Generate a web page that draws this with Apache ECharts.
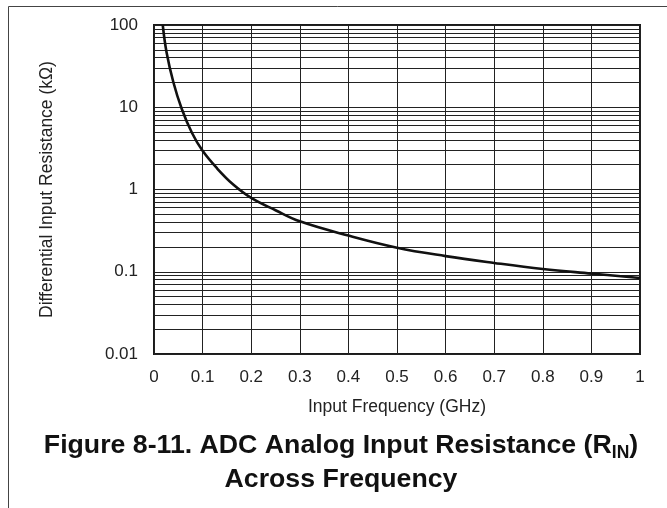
<!DOCTYPE html>
<html>
<head>
<meta charset="utf-8">
<script src="https://cdn.jsdelivr.net/npm/echarts@6/dist/echarts.min.js"></script>
<style>
html,body{margin:0;padding:0;background:#fff;}
#c{width:667px;height:508px;}
</style>
</head>
<body>
<div id="c"></div>
<script>
// Data
const freqGHz = [0.018, 0.026, 0.040, 0.057, 0.078, 0.100, 0.130, 0.163, 0.200, 0.250, 0.300, 0.400, 0.500, 0.600, 0.700, 0.800, 0.900, 1.000];
const resistanceKOhm = [100, 46, 20, 9.6, 4.9, 2.95, 1.8, 1.15, 0.79, 0.56, 0.41, 0.275, 0.196, 0.155, 0.128, 0.108, 0.095, 0.084];
const xTickLabels = ['0', '0.1', '0.2', '0.3', '0.4', '0.5', '0.6', '0.7', '0.8', '0.9', '1'];
const yTickLabels = ['0.01', '0.1', '1', '10', '100'];
const minorMultipliers = [2, 3, 4, 5, 6, 7, 8, 9];
const decades = [0.01, 0.1, 1, 10];

const minorLines = [];
decades.forEach(d => minorMultipliers.forEach(m => minorLines.push({ yAxis: +(d * m).toPrecision(3) })));

const chart = echarts.init(document.getElementById('c'));
const font = 'Liberation Sans, Arial, Helvetica, sans-serif';
chart.setOption({
  animation: false,
  backgroundColor: '#fff',
  grid: { left: 154, right: 27, top: 25, bottom: 154, show: true, borderColor: '#1a1a1a', borderWidth: 2, backgroundColor: 'transparent' },
  xAxis: {
    type: 'value', min: 0, max: 1, interval: 0.1,
    name: 'Input Frequency (GHz)', nameLocation: 'middle', nameGap: 44,
    nameTextStyle: { fontFamily: font, fontSize: 17.5, color: '#222' },
    axisLine: { show: false }, axisTick: { show: false },
    axisLabel: { fontFamily: font, fontSize: 17, color: '#222', margin: 15,
      formatter: (v) => xTickLabels[Math.round(v * 10)] },
    splitLine: { show: true, lineStyle: { color: '#222', width: 1 } }
  },
  yAxis: {
    type: 'log', logBase: 10, min: 0.01, max: 100,
    name: 'Differential Input Resistance (kΩ)', nameLocation: 'middle', nameGap: 98,
    nameTextStyle: { fontFamily: font, fontSize: 17.5, color: '#222' },
    axisLine: { show: false }, axisTick: { show: false },
    axisLabel: { fontFamily: font, fontSize: 17, color: '#222', margin: 16,
      formatter: (v) => yTickLabels[Math.round(Math.log10(v)) + 2] },
    splitLine: { show: true, lineStyle: { color: '#222', width: 1 } }
  },
  series: [{
    type: 'line',
    data: freqGHz.map((f, i) => [f, resistanceKOhm[i]]),
    smooth: 0.4,
    showSymbol: false,
    lineStyle: { color: '#111', width: 2.6 },
    markLine: {
      silent: true, symbol: 'none', animation: false,
      label: { show: false },
      lineStyle: { color: '#222', width: 1, type: 'solid' },
      data: minorLines
    },
    z: 5
  }],
  graphic: [
    { type: 'line', shape: { x1: 8.5, y1: 6.5, x2: 667, y2: 6.5 }, style: { stroke: '#444', lineWidth: 1 } },
    { type: 'line', shape: { x1: 8.5, y1: 6.5, x2: 8.5, y2: 508 }, style: { stroke: '#444', lineWidth: 1 } },
    {
      type: 'text', x: 341, y: 431,
      style: {
        align: 'center', verticalAlign: 'top',
        text: '{t|Figure 8-11. ADC Analog Input Resistance (R}{s|IN}{t|)}',
        rich: {
          t: { fontFamily: font, fontSize: 26.7, fontWeight: 'bold', fill: '#111', lineHeight: 30 },
          s: { fontFamily: font, fontSize: 17.5, fontWeight: 'bold', fill: '#111', lineHeight: 30, padding: [14, 0, 0, 0] }
        }
      }
    },
    {
      type: 'text', x: 341, y: 465,
      style: {
        align: 'center', verticalAlign: 'top',
        text: '{t|Across Frequency}',
        rich: { t: { fontFamily: font, fontSize: 26.7, fontWeight: 'bold', fill: '#111', lineHeight: 30 } }
      }
    }
  ]
});
</script>
</body>
</html>
